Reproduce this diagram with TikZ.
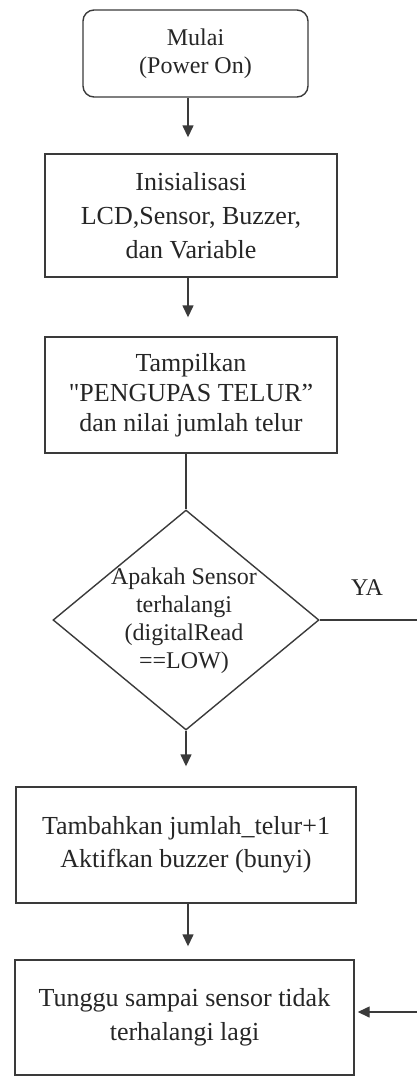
\documentclass[tikz,border=0pt]{standalone}
\usepackage{fontspec}
\setmainfont{Liberation Serif}
% same face without the TeX quote mapping, for a straight double quote
\newfontfamily\straightq{Liberation Serif}
\usetikzlibrary{arrows.meta,shapes.geometric}

\definecolor{linegray}{HTML}{3A3A3A}
\definecolor{textgray}{HTML}{262626}

\begin{document}
\begin{tikzpicture}[x=1pt,y=-1pt,
  line/.style={draw=linegray, line width=1.4pt},
  box/.style={line, rectangle, inner sep=0pt, align=center, text=textgray,
              font=\fontsize{26}{34}\selectfont},
  startbox/.style={box, rounded corners=11pt, font=\fontsize{24}{28}\selectfont},
  decision/.style={line, diamond, inner sep=0pt, aspect=1.21},
  dectext/.style={align=center, text=textgray, inner sep=0pt,
              font=\fontsize{24}{28}\selectfont},
  arr/.style={line, -{Triangle[width=11pt,length=12pt]}},
]
\useasboundingbox (0,0) rectangle (417,1077);

% flow axis and the free ends of the loop line
\coordinate (ax) at (188,0);
\coordinate (yaEnd) at (417,620);
\coordinate (loopIn) at (417,1012);

% blocks
\node[startbox, minimum width=225pt, minimum height=87pt] (start) at (195.5,53.5)
  {Mulai\\(Power On)};
\node[box, minimum width=292pt, minimum height=123pt] (init) at (191,215.5)
  {Inisialisasi\\LCD,Sensor, Buzzer,\\dan Variable};
\node[box, minimum width=292pt, minimum height=116pt,
      font=\fontsize{26}{30}\selectfont] (show) at (191,395)
  {Tampilkan\\{\straightq"}PENGUPAS TELUR”\\dan nilai jumlah telur};
\node[decision, minimum width=266pt, minimum height=220pt] (dec) at (186,620) {};
\node[dectext] (dectxt) at (184,621)
  {Apakah Sensor\\terhalangi\\(digitalRead\\==LOW)};
\node[dectext] (ya) at (367,588) {YA};
\node[box, minimum width=340pt, minimum height=116pt,
      font=\fontsize{26}{33}\selectfont] (add) at (186,845)
  {Tambahkan jumlah\_telur+1\\Aktifkan buzzer (bunyi)};
\node[box, minimum width=339pt, minimum height=115pt] (wait) at (184.5,1017.5)
  {Tunggu sampai sensor tidak\\terhalangi lagi};

% connectors
\draw[arr, shorten >=16pt] (start.south -| ax) -- (init.north -| ax);
\draw[arr, shorten >=19pt] (init.south -| ax) -- (show.north -| ax);
\draw[line] (show.south -| dec.north) -- (dec.north);
\draw[arr, shorten >=20pt] (dec.south) -- (add.north -| dec.south);
\draw[arr, shorten >=13pt] (add.south -| ax) -- (wait.north -| ax);
\draw[line] (dec.east) -- (yaEnd);
\draw[arr, shorten >=3pt] (loopIn) -- (wait.east |- loopIn);
\end{tikzpicture}
\end{document}
